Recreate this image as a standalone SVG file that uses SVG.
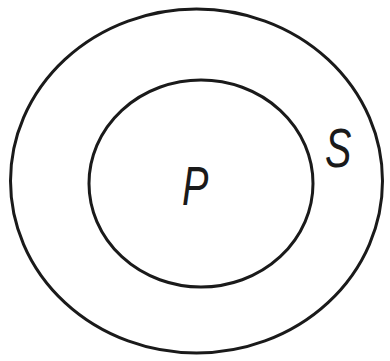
<svg xmlns="http://www.w3.org/2000/svg" width="390" height="361" viewBox="0 0 390 361">
<style>
.ring{fill:none;stroke:#1a1a1a;stroke-width:3}
.lbl{font-family:"Liberation Sans",Arial,sans-serif;font-style:italic;font-size:55px;fill:#1a1a1a}
</style>
<rect width="390" height="361" fill="#ffffff"/>
<g id="S">
<ellipse class="ring" cx="196.5" cy="181" rx="186" ry="172"/>
<text class="lbl" transform="translate(325,167) scale(0.72,1)">S</text>
</g>
<g id="P">
<ellipse class="ring" cx="201" cy="183.5" rx="112" ry="103.5"/>
<text class="lbl" transform="translate(182,205) scale(0.72,1)">P</text>
</g>
<g id="connectors"/>
</svg>
